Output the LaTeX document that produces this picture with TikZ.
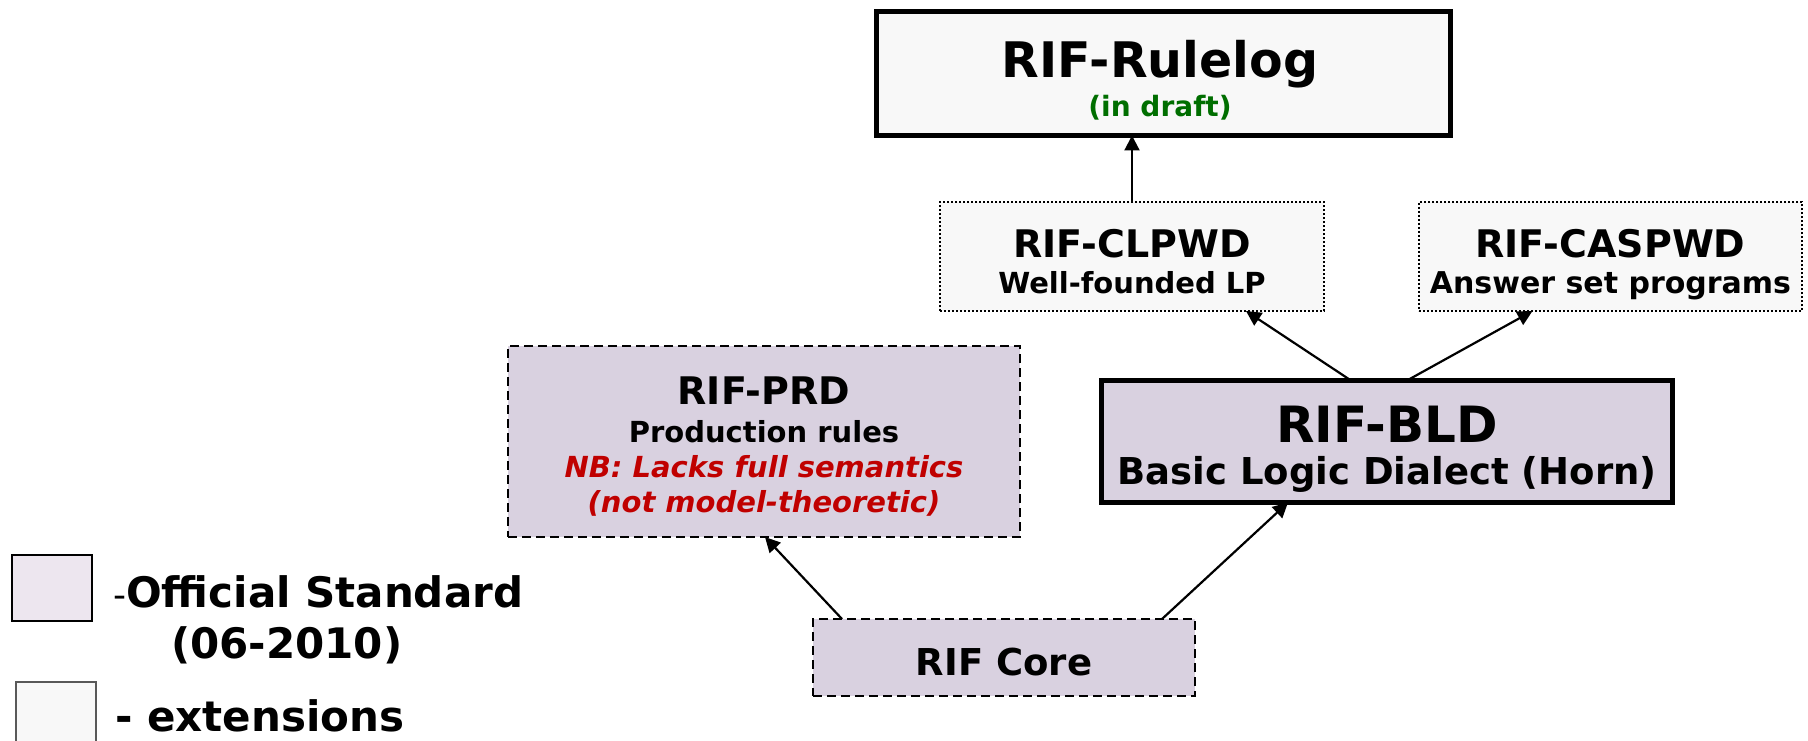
\documentclass[tikz,border=0pt]{standalone}
\usepackage{fontspec}
\setmainfont{DejaVu Sans}
\usetikzlibrary{arrows.meta}
\definecolor{stdfill}{HTML}{D9D1E0}
\definecolor{legfill}{HTML}{EDE6EF}
\definecolor{extfill}{HTML}{F8F8F8}
\definecolor{nbred}{HTML}{C00000}
\definecolor{draftgreen}{HTML}{006E00}
\newcommand{\bsize}[1]{\fontsize{#1}{#1}\selectfont\bfseries}
\begin{document}
\begin{tikzpicture}[x=1pt,y=-1pt,
  box/.style={draw=black, inner sep=0pt, outer sep=0pt},
  thickbox/.style={box, line width=5pt},
  stdbox/.style={box, fill=stdfill, line width=2.5pt, dash pattern=on 9pt off 5pt},
  extbox/.style={box, fill=extfill, line width=1.8pt, dash pattern=on 2pt off 2pt},
  lbl/.style={anchor=base, inner sep=0pt},
  leg/.style={anchor=base west, inner sep=0pt},
  link/.style={line width=2.2pt, -{Triangle[length=15pt,width=15pt]}}
]
\useasboundingbox (0,0) rectangle (1808,741);

% dialect boxes
\node[thickbox, fill=extfill, minimum width=574pt, minimum height=124pt] (rulelog) at (1163.5,73.5) {};
\node[extbox, minimum width=384pt, minimum height=109pt] (clp) at (1132,256.5) {};
\node[extbox, minimum width=383pt, minimum height=109pt] (asp) at (1610.5,256.5) {};
\node[stdbox, minimum width=512pt, minimum height=191pt] (prd) at (764,441.5) {};
\node[thickbox, fill=stdfill, minimum width=571pt, minimum height=122pt] (bld) at (1387,441.5) {};
\node[stdbox, minimum width=382pt, minimum height=77pt] (core) at (1004,657.5) {};

% box titles and descriptions
\node[lbl] (rulelogT) at (1160,78) {\bsize{49}RIF-Rulelog};
\node[lbl, text=draftgreen] (rulelogS) at (1160,117) {\bsize{28}(in draft)};
\node[lbl] (clpT) at (1132,257) {\bsize{38}RIF-CLPWD};
\node[lbl] (clpS) at (1132,293) {\bsize{29}Well-founded LP};
\node[lbl] (aspT) at (1610.5,257) {\bsize{38}RIF-CASPWD};
\node[lbl] (aspS) at (1610.5,293) {\bsize{30}Answer set programs};
\node[lbl] (prdT) at (764,404) {\bsize{38}RIF-PRD};
\node[lbl] (prdS) at (764,442) {\bsize{29}Production rules};
\node[lbl, text=nbred] (prdN1) at (764,477) {\bsize{29}\itshape NB: Lacks full semantics};
\node[lbl, text=nbred] (prdN2) at (764,512) {\bsize{29}\itshape (not model-theoretic)};
\node[lbl] (bldT) at (1387,442) {\bsize{50}RIF-BLD};
\node[lbl] (bldS) at (1387,484) {\bsize{37}Basic Logic Dialect (Horn)};
\node[lbl] (coreT) at (1004,675) {\bsize{37}RIF Core};

% dependencies
\draw[link] ([xshift=29pt]core.north west) -- ([xshift=257pt]prd.south west);
\draw[link] ([xshift=-33pt]core.north east) -- ([xshift=-99pt]bld.south);
\draw[link] ([xshift=-36pt]bld.north) -- ([xshift=114pt]clp.south);
\draw[link] ([xshift=20pt]bld.north) -- ([xshift=-78pt]asp.south);
\draw[link] (clp.north) -- (clp.north |- rulelog.south);

% legend
\node[box, fill=legfill, line width=1.8pt, minimum width=80pt, minimum height=66pt] (legstd) at (52,588) {};
\node[box, draw=gray!70!black, fill=extfill, line width=1.8pt, minimum width=80pt, minimum height=66pt] (legext) at (56,715) {};
\node[leg] (legstdT) at (113,607) {{\fontsize{36}{36}\selectfont -}\bsize{42}Official Standard};
\node[leg] (legstdD) at (171,658) {\bsize{42}(06-2010)};
\node[leg] (legextT) at (115,731) {\bsize{42}- extensions};
\end{tikzpicture}
\end{document}
